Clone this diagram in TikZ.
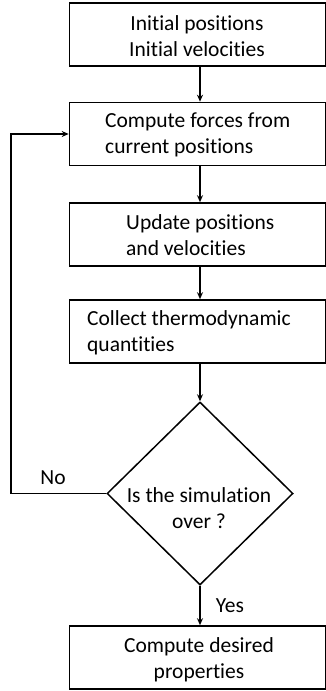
\documentclass[tikz,border=0pt]{standalone}
\usepackage{fontspec}
\setmainfont{Carlito}[RawFeature={-liga}]
\usetikzlibrary{shapes.geometric,arrows.meta}
\tikzset{
  box/.style={draw=black, line width=1.6pt, minimum width=256pt, minimum height=63pt, inner sep=0pt},
  dec/.style={draw=black, line width=1.5pt, shape=diamond, minimum width=186pt, minimum height=183pt, inner sep=0pt},
  txt/.style={font=\fontsize{21.5}{26}\selectfont, inner sep=0pt},
  arr/.style={line width=1.3pt, -{Stealth[length=7pt,width=6pt]}},
}
\begin{document}
\begin{tikzpicture}[x=1pt,y=-1pt]
\useasboundingbox (0,0) rectangle (326,691);
\node[box] (b1) at (197.5,34.5) {};
\node[box] (b2) at (197.5,134) {};
\node[box] (b3) at (197.5,234.5) {};
\node[box] (b4) at (197.5,331.5) {};
\node[dec] (d) at (200,493.5) {};
\node[box] (b5) at (197.5,657.5) {};
\node[txt, align=center] (t1) at (197,36) {Initial positions\\Initial velocities};
\node[txt, align=left, anchor=west] (t2) at (105,135) {Compute forces from\\current positions};
\node[txt, align=left, anchor=west] (t3) at (126,235) {Update positions\\and velocities};
\node[txt, align=left, anchor=west] (t4) at (87,333) {Collect thermodynamic\\quantities};
\node[txt, align=center] (t5) at (199,508) {Is the simulation\\over ?};
\node[txt, align=center] (t6) at (199,659.5) {Compute desired\\properties};
\node[txt] (no) at (53,478) {No};
\node[txt] (yes) at (230,606) {Yes};
\coordinate (c1) at (11,493.5);
\coordinate (c2) at (11,134);
\draw[arr] (b1.south -| d.north) -- (b2.north -| d.north);
\draw[arr] (b2.south -| d.north) -- (b3.north -| d.north);
\draw[arr] (b3.south -| d.north) -- (b4.north -| d.north);
\draw[arr] (b4.south -| d.north) -- (d.north);
\draw[arr] (d.south) -- (b5.north -| d.south);
\draw[arr] (d.west) -- (c1) -- (c2) -- (b2.west);
\end{tikzpicture}
\end{document}
